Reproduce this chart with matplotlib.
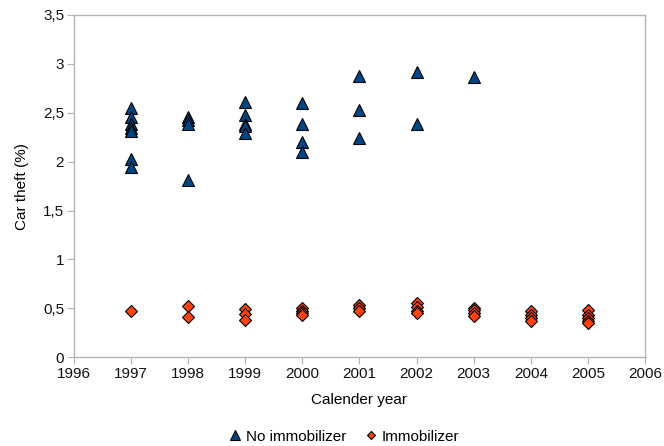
import numpy as np
import matplotlib
matplotlib.use("Agg")
import matplotlib.pyplot as plt
from matplotlib.ticker import FuncFormatter

# values
years_no = [1997] * 7 + [1998] * 4 + [1999] * 5 + [2000] * 4 + [2001] * 3 + [2002] * 2 + [2003]
theft_no = [2.55, 2.46, 2.39, 2.34, 2.31, 2.03, 1.95,
            2.46, 2.43, 2.38, 1.81,
            2.61, 2.48, 2.39, 2.36, 2.29,
            2.60, 2.38, 2.20, 2.10,
            2.88, 2.53, 2.24,
            2.92, 2.39,
            2.87]

years_imm = [1997] + [1998] * 2 + [1999] * 3 + [2000] * 4 + [2001] * 3 + [2002] * 4 \
    + [2003] * 4 + [2004] * 4 + [2005] * 5
theft_imm = [0.47,
             0.52, 0.41,
             0.49, 0.44, 0.38,
             0.50, 0.475, 0.45, 0.43,
             0.53, 0.50, 0.47,
             0.55, 0.51, 0.475, 0.45,
             0.50, 0.48, 0.45, 0.42,
             0.47, 0.43, 0.40, 0.37,
             0.48, 0.43, 0.40, 0.37, 0.35]

plt.rcParams['font.family'] = ['Liberation Sans', 'DejaVu Sans']
grey = "#b3b3b3"

fig = plt.figure(figsize=(6.64, 4.46), dpi=100)
ax = fig.add_axes([0.1114, 0.199, 0.86, 0.7675])

ax.plot(years_no, theft_no, linestyle="none", marker="^", markersize=9,
        markerfacecolor="#004586", markeredgecolor="black", markeredgewidth=0.8,
        label="No immobilizer")
ax.plot(years_imm, theft_imm, linestyle="none", marker="D", markersize=6,
        markerfacecolor="#ff420e", markeredgecolor="black", markeredgewidth=0.8,
        label="Immobilizer")

ax.set_xlim(1996, 2006)
ax.set_ylim(0, 3.5)
ax.set_xticks(range(1996, 2007))
ax.set_yticks(np.arange(0, 3.51, 0.5))
ax.yaxis.set_major_formatter(FuncFormatter(lambda v, p: f"{v:g}".replace(".", ",")))

for s in ax.spines.values():
    s.set_color(grey)
    s.set_linewidth(1.0)
ax.tick_params(color=grey, length=5, pad=2, labelsize=11, labelcolor="#111111")

ax.set_xlabel("Calender year", fontsize=11, labelpad=9)
ax.set_ylabel("Car theft (%)", fontsize=11, labelpad=10)

fig.legend(loc="center", bbox_to_anchor=(0.518, 0.021), ncol=2, frameon=False,
           fontsize=11, markerscale=0.75, handlelength=0.8, handletextpad=0.3,
           columnspacing=1.2)

fig.savefig("out.png", dpi=100)
plt.close(fig)
